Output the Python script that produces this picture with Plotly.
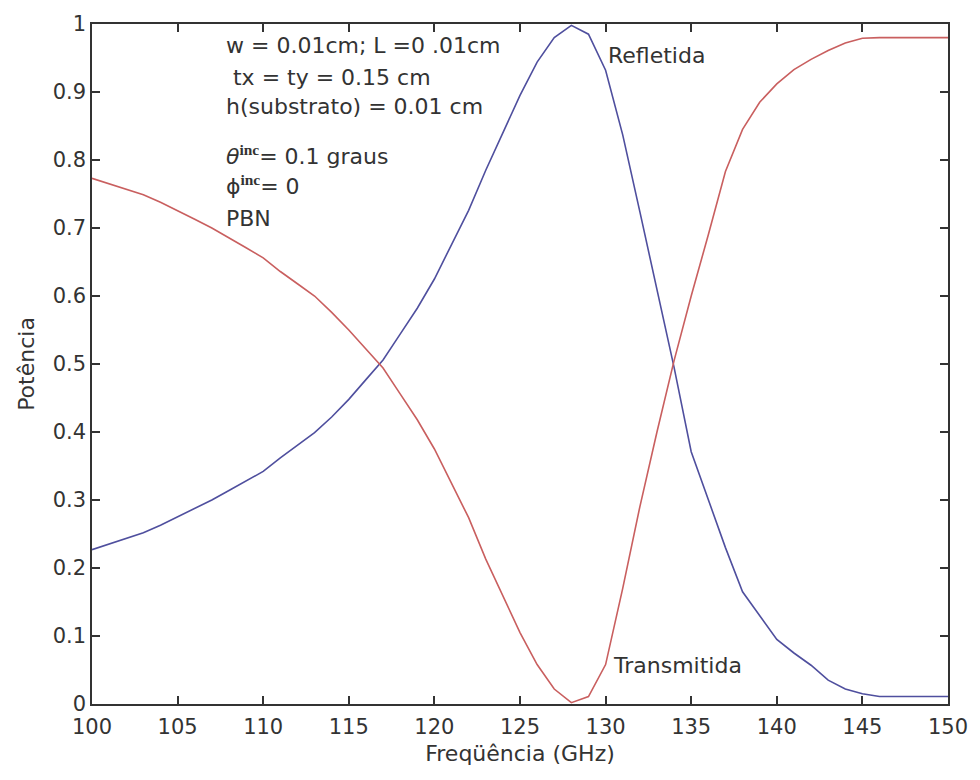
import plotly.graph_objects as go

freq = list(range(100, 151))

transmitida = [0.773, 0.765, 0.757, 0.749, 0.738, 0.726, 0.713, 0.700, 0.686, 0.671,
               0.656, 0.636, 0.618, 0.600, 0.576, 0.550, 0.522, 0.494, 0.456, 0.418,
               0.375, 0.324, 0.274, 0.213, 0.160, 0.105, 0.058, 0.022, 0.002, 0.011,
               0.058, 0.170, 0.290, 0.400, 0.505, 0.600, 0.690, 0.783, 0.845, 0.885,
               0.912, 0.933, 0.948, 0.961, 0.972, 0.979, 0.980, 0.980, 0.980, 0.980,
               0.980]

refletida = [0.227, 0.235, 0.243, 0.252, 0.263, 0.275, 0.287, 0.300, 0.314, 0.328,
             0.342, 0.362, 0.381, 0.399, 0.422, 0.448, 0.477, 0.506, 0.544, 0.582,
             0.625, 0.676, 0.726, 0.785, 0.839, 0.895, 0.944, 0.980, 0.998, 0.985,
             0.932, 0.837, 0.724, 0.607, 0.495, 0.371, 0.300, 0.230, 0.165, 0.130,
             0.095, 0.075, 0.057, 0.035, 0.022, 0.015, 0.011, 0.011, 0.011, 0.011,
             0.011]

x_ticks = [100, 105, 110, 115, 120, 125, 130, 135, 140, 145, 150]
y_ticks = [0, 0.1, 0.2, 0.3, 0.4, 0.5, 0.6, 0.7, 0.8, 0.9, 1]
y_tick_text = ["0", "0.1", "0.2", "0.3", "0.4", "0.5", "0.6", "0.7", "0.8", "0.9", "1"]

SUP = "<sup><span style='font-family:Liberation Serif'><b>inc</b></span></sup>"
info_lines = [
    "w = 0.01cm; L =0 .01cm",
    "&nbsp;tx = ty = 0.15 cm",
    "h(substrato) = 0.01 cm",
    "<i>θ</i>" + SUP + "= 0.1 graus",
    "ϕ" + SUP + "= 0",
    "PBN",
]
info_y = [0.968, 0.921, 0.879, 0.808, 0.763, 0.714]

FONT = "DejaVu Sans, Verdana, sans-serif"
TXT = "#333333"

fig = go.Figure()
fig.add_trace(go.Scatter(x=freq, y=refletida, mode="lines",
                         line=dict(color="#4f4f9e", width=1.6), name="Refletida"))
fig.add_trace(go.Scatter(x=freq, y=transmitida, mode="lines",
                         line=dict(color="#c95f5f", width=1.6), name="Transmitida"))

annotations = []
for t, yy in zip(info_lines, info_y):
    annotations.append(dict(x=107.7, y=yy, xref="x", yref="y", text=t,
                            showarrow=False, xanchor="left", yanchor="middle",
                            font=dict(family=FONT, size=22, color=TXT)))
annotations.append(dict(x=130.0, y=0.953, xref="x", yref="y", text="Refletida",
                        showarrow=False, xanchor="left", yanchor="middle",
                        font=dict(family=FONT, size=22, color=TXT)))
annotations.append(dict(x=130.3, y=0.057, xref="x", yref="y", text="Transmitida",
                        showarrow=False, xanchor="left", yanchor="middle",
                        font=dict(family=FONT, size=22, color=TXT)))

fig.update_layout(
    width=980, height=780,
    margin=dict(l=92, r=25, t=20, b=76),
    paper_bgcolor="white", plot_bgcolor="white",
    showlegend=False,
    font=dict(family=FONT, size=21, color=TXT),
    annotations=annotations,
)
fig.update_xaxes(
    range=[100, 150], tickvals=x_ticks, ticks="inside", ticklen=8, tickwidth=1.5,
    tickcolor="#333333", showline=True, linecolor="#333333", linewidth=1.5,
    mirror="ticks", showgrid=False, zeroline=False, ticklabelstandoff=3,
    title=dict(text="Freqüência (GHz)", standoff=8, font=dict(size=22, color=TXT)),
    tickfont=dict(size=21, color=TXT),
)
fig.update_yaxes(
    range=[0, 1], tickvals=y_ticks, ticktext=y_tick_text, ticks="inside", ticklen=8,
    tickwidth=1.5, tickcolor="#333333", showline=True, linecolor="#333333", linewidth=1.5,
    mirror="ticks", showgrid=False, zeroline=False,
    title=dict(text="Potência", standoff=12, font=dict(size=22, color=TXT)),
    tickfont=dict(size=21, color=TXT),
)

fig.write_html("out.html")
